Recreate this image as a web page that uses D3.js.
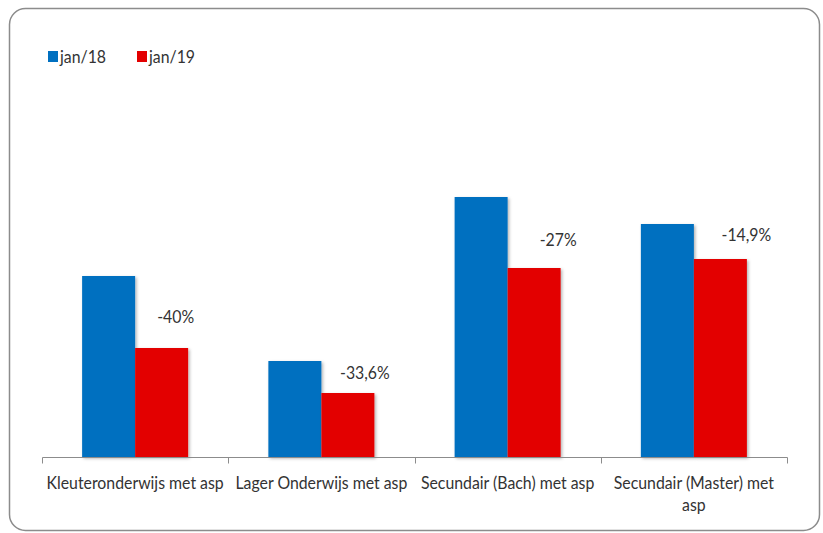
<!DOCTYPE html>
<html>
<head>
<meta charset="utf-8">
<script src="https://cdn.jsdelivr.net/npm/d3@7"></script>
<style>
  body { margin: 0; background: #fff; }
  svg text { font-family: Lato, "Open Sans", sans-serif; fill: #333; font-size: 18px; }
</style>
</head>
<body>
<svg></svg>
<script>
// categories and the two series
var categories = ['Kleuteronderwijs met asp', 'Lager Onderwijs met asp', 'Secundair (Bach) met asp', 'Secundair (Master) met asp']
var seriesNames = ['jan/18', 'jan/19']
var jan18 = [181, 96, 260, 233]
var jan19 = [109, 64, 189, 198]
var changeLabels = ['-40%', '-33,6%', '-27%', '-14,9%']
var colors = ['#0070C0', '#E30000']

// hand placed text boxes in the original, nudges from the red bar top-centre
var labelNudge = [[14, -25], [17, -14], [24, -22], [26, -18]]

var width = 823
var height = 533
var baseline = 457
// Calibri is narrower than Lato: squeeze text horizontally
var sx = 0.88

var svg = d3.select('svg')
  .attr('width', width)
  .attr('height', height)

svg.append('rect')
  .attr('x', 9.5)
  .attr('y', 8.5)
  .attr('width', 810)
  .attr('height', 522)
  .attr('rx', 16)
  .attr('fill', '#fff')
  .attr('stroke', '#8c8c8c')
  .attr('stroke-width', 1.5)

var defs = svg.append('defs')
defs.append('filter')
    .attr('id', 'shadow')
    .attr('x', '-20%').attr('y', '-20%')
    .attr('width', '140%').attr('height', '140%')
  .append('feDropShadow')
    .attr('dx', 1.5)
    .attr('dy', 1.5)
    .attr('stdDeviation', 1.5)
    .attr('flood-color', '#000')
    .attr('flood-opacity', 0.3)

var xScale = d3.scaleBand()
  .domain(categories)
  .range([42, 787])

var xSub = d3.scaleBand()
  .domain(seriesNames)
  .range([0, xScale.bandwidth()])
  .paddingOuter(0.757)

var yScale = d3.scaleLinear()
  .domain([0, 300])
  .range([baseline, baseline - 300])

function squeezed(parent, x, y) {
  return parent.append('g')
      .attr('transform', 'translate(' + x + ',' + y + ') scale(' + sx + ',1)')
    .append('text')
}

var rows = categories.map((c, i) => ({ cat: c, values: [jan18[i], jan19[i]], label: changeLabels[i], nudge: labelNudge[i] }))

var groups = svg.selectAll('.group')
  .data(rows)
  .enter()
  .append('g')
    .attr('class', 'group')
    .attr('transform', d => 'translate(' + xScale(d.cat) + ',0)')

groups.selectAll('rect')
  .data(d => d.values.map((v, j) => ({ key: seriesNames[j], value: v, color: colors[j] })))
  .enter()
  .append('rect')
    .attr('x', d => xSub(d.key))
    .attr('y', d => yScale(d.value))
    .attr('width', xSub.bandwidth())
    .attr('height', d => baseline - yScale(d.value))
    .attr('fill', d => d.color)
    .attr('filter', 'url(#shadow)')

groups.each(function(d) {
  squeezed(d3.select(this),
           xSub('jan/19') + xSub.bandwidth() / 2 + d.nudge[0],
           yScale(d.values[1]) + d.nudge[1])
    .style('text-anchor', 'middle')
    .text(d.label)
})

// x axis: line + ticks at category boundaries
var axis = svg.append('g')
  .attr('transform', 'translate(0,' + baseline + ')')
  .call(d3.axisBottom(xScale).tickSize(0).tickFormat(''))
axis.select('.domain').attr('stroke', '#8c8c8c').attr('d', 'M42.5,0.5H787.5')

var bounds = categories.map(c => xScale(c)).concat([xScale.range()[1]])
axis.selectAll('.bound')
  .data(bounds)
  .enter()
  .append('line')
    .attr('x1', d => Math.round(d) + 0.5)
    .attr('x2', d => Math.round(d) + 0.5)
    .attr('y1', 0.5)
    .attr('y2', 6.5)
    .attr('stroke', '#8c8c8c')

// category labels, wrapped to the band width
categories.forEach(function(c) {
  var cx = xScale(c) + xScale.bandwidth() / 2
  var t = squeezed(svg, cx, 489).style('text-anchor', 'middle')
  var words = c.split(' ')
  var line = []
  var tspan = t.append('tspan').attr('x', 0)
  words.forEach(function(w) {
    line.push(w)
    tspan.text(line.join(' '))
    if (tspan.node().getComputedTextLength() * sx > xScale.bandwidth() - 2 && line.length > 1) {
      line.pop()
      tspan.text(line.join(' '))
      line = [w]
      tspan = t.append('tspan')
        .attr('x', 0)
        .attr('dy', 22)
        .text(w)
    }
  })
})

// legend
var legend = svg.selectAll('.legend')
  .data(seriesNames)
  .enter()
  .append('g')
    .attr('class', 'legend')
    .attr('transform', (d, i) => 'translate(' + (48 + i * 89) + ',51)')
legend.append('rect')
  .attr('width', 10)
  .attr('height', 11)
  .attr('fill', (d, i) => colors[i])
legend.each(function(d) {
  squeezed(d3.select(this), 12, 12).text(d)
})
</script>
</body>
</html>
